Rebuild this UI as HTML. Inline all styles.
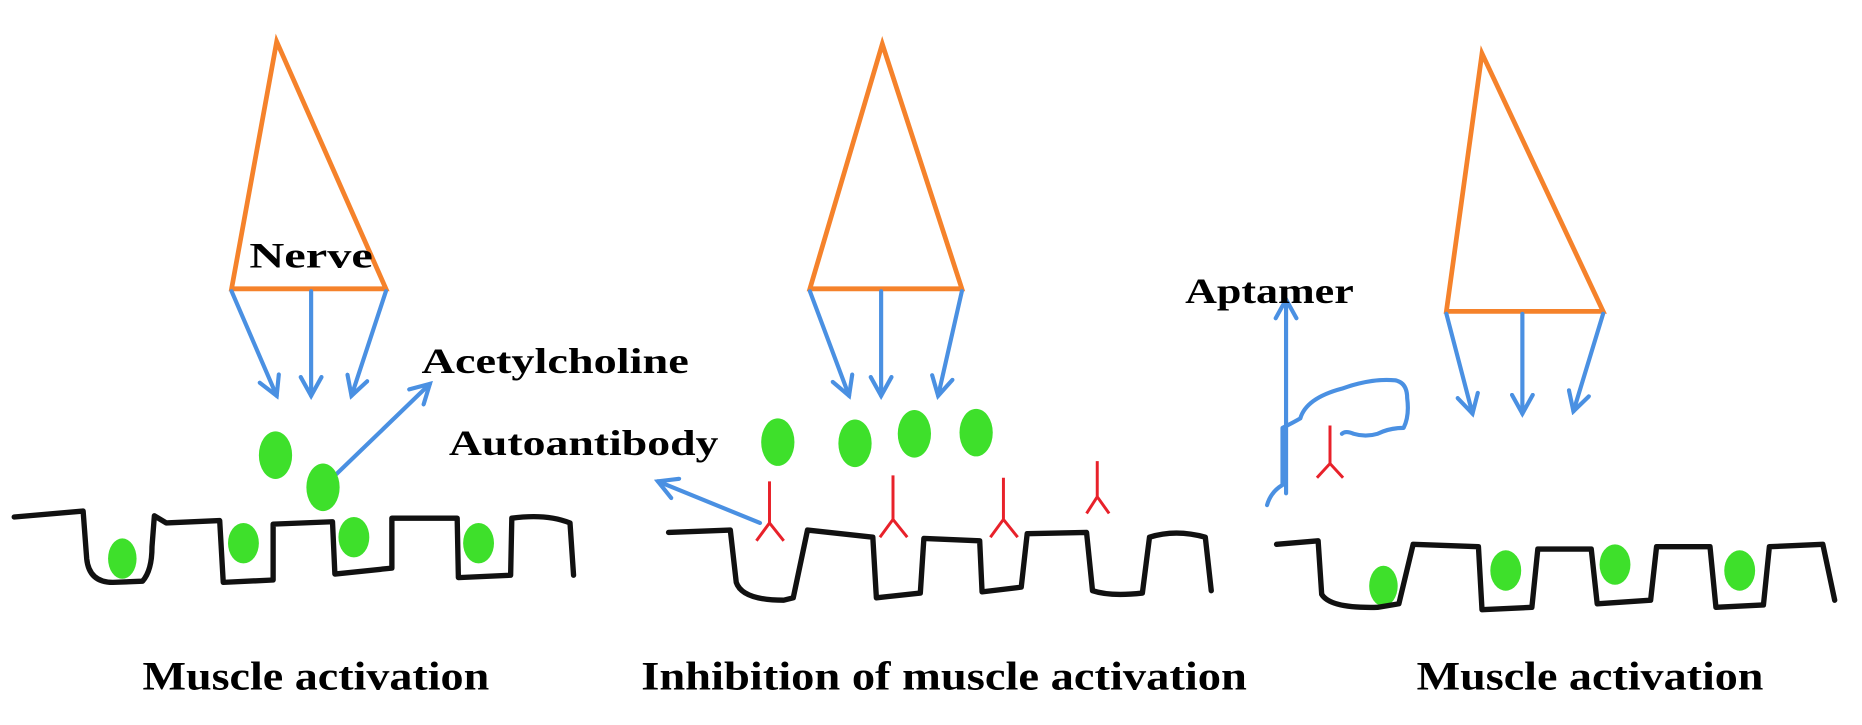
<!DOCTYPE html>
<html><head><meta charset="utf-8"><style>
html,body{margin:0;padding:0;background:#fff;}
svg{display:block;}
text{font-family:"Liberation Serif",serif;font-weight:bold;fill:#000;}
</style></head><body>
<svg width="1862" height="725" viewBox="0 0 1568 610" preserveAspectRatio="none" xmlns="http://www.w3.org/2000/svg">
<defs>
<marker id="ah" viewBox="0 0 12 12" refX="10" refY="6" markerWidth="6" markerHeight="6" orient="auto-start-reverse" markerUnits="strokeWidth">
<path d="M1,1 L10,6 L1,11" fill="none" stroke="#4a90e2" stroke-width="2" stroke-linecap="round"/>
</marker>
</defs>
<g fill="none" stroke="#f5822b" stroke-width="4" stroke-linejoin="miter">
<polygon points="233,35 195,243 325,243"/>
<polygon points="743,37 682,243 810,243"/>
<polygon points="1248,45 1218,262 1350,262"/>
</g>
<g fill="none" stroke="#4a90e2" stroke-width="3.5" stroke-linecap="round" marker-end="url(#ah)">
<line x1="195" y1="245" x2="233" y2="333"/>
<line x1="262" y1="245" x2="262" y2="333"/>
<line x1="325" y1="245" x2="296" y2="333"/>
<line x1="278" y1="404" x2="362" y2="323"/>
<line x1="682" y1="245" x2="715" y2="333"/>
<line x1="742" y1="245" x2="742" y2="333"/>
<line x1="810" y1="245" x2="790" y2="333"/>
<line x1="640" y1="440" x2="554" y2="405"/>
<line x1="1218" y1="264" x2="1240" y2="348"/>
<line x1="1282" y1="264" x2="1282" y2="348"/>
<line x1="1350" y1="264" x2="1325" y2="346"/>
<line x1="1083" y1="415" x2="1083" y2="252"/>
</g>
<path d="M1067,425 Q1070,414 1080,408 L1080,360 Q1090,355 1095,352 Q1100,335 1130,327 Q1155,318 1175,320 Q1185,322 1185,335 Q1187,350 1182,360 Q1170,360 1160,365 Q1150,368 1140,365 Q1133,362 1130,365" fill="none" stroke="#4a90e2" stroke-width="3.5" stroke-linecap="round" stroke-linejoin="round"/>
<g fill="none" stroke="#e8212a" stroke-width="2.5">
<path d="M648,405 L648,440 M637,455 L648,440 L660,455"/>
<path d="M752,400 L752,437 M741,452 L752,437 L764,452"/>
<path d="M845,402 L845,437 M834,452 L845,437 L857,452"/>
<path d="M924,388 L924,418 M915,432 L924,418 L934,432"/>
<path d="M1120,358 L1120,390 M1109,402 L1120,390 L1131,402"/>
</g>
<g fill="#3ee02b">
<ellipse cx="232" cy="383" rx="14" ry="20"/>
<ellipse cx="272" cy="410" rx="14" ry="20"/>
<ellipse cx="103" cy="470" rx="12" ry="17"/>
<ellipse cx="205" cy="457" rx="13" ry="17"/>
<ellipse cx="298" cy="452" rx="13" ry="17"/>
<ellipse cx="403" cy="457" rx="13" ry="17"/>
<ellipse cx="655" cy="372" rx="14" ry="20"/>
<ellipse cx="720" cy="373" rx="14" ry="20"/>
<ellipse cx="770" cy="365" rx="14" ry="20"/>
<ellipse cx="822" cy="364" rx="14" ry="20"/>
<ellipse cx="1165" cy="493" rx="12" ry="17"/>
<ellipse cx="1268" cy="480" rx="13" ry="17"/>
<ellipse cx="1360" cy="475" rx="13" ry="17"/>
<ellipse cx="1465" cy="480" rx="13" ry="17"/>
</g>
<g fill="none" stroke="#111" stroke-width="4.5" stroke-linejoin="round" stroke-linecap="round">
<path d="M12,435 L70,430 L73,470 Q75,490 95,490 L120,489 Q128,480 128,460 L130,434 L140,440 L185,438 L188,490 L230,488 L230,441 L280,439 L282,483 L330,478 L330,436 L385,436 L386,486 L430,484 L431,436 Q460,432 480,440 L483,484"/>
<path d="M563,448 L615,446 L620,490 Q625,505 660,505 L668,503 L680,446 L735,452 L738,503 L775,499 L778,453 L825,455 L827,498 L860,494 L865,449 L915,448 L920,497 Q935,502 962,499 L968,452 Q990,445 1015,452 L1020,497"/>
<path d="M1075,458 L1110,455 L1113,500 Q1120,512 1160,511 L1178,508 L1190,458 L1245,460 L1248,513 L1290,511 L1295,462 L1340,462 L1345,508 L1390,505 L1395,460 L1440,460 L1445,511 L1485,509 L1490,460 L1535,458 L1545,505"/>
</g>
<text x="210" y="225" font-size="30" textLength="104" lengthAdjust="spacingAndGlyphs">Nerve</text>
<text x="355" y="314" font-size="30" textLength="225" lengthAdjust="spacingAndGlyphs">Acetylcholine</text>
<text x="378" y="383" font-size="30" textLength="227" lengthAdjust="spacingAndGlyphs">Autoantibody</text>
<text x="998" y="255" font-size="30" textLength="142" lengthAdjust="spacingAndGlyphs">Aptamer</text>
<text x="120" y="580" font-size="34" textLength="292" lengthAdjust="spacingAndGlyphs">Muscle activation</text>
<text x="540" y="580" font-size="34" textLength="510" lengthAdjust="spacingAndGlyphs">Inhibition of muscle activation</text>
<text x="1193" y="580" font-size="34" textLength="292" lengthAdjust="spacingAndGlyphs">Muscle activation</text>
</svg>
</body></html>
